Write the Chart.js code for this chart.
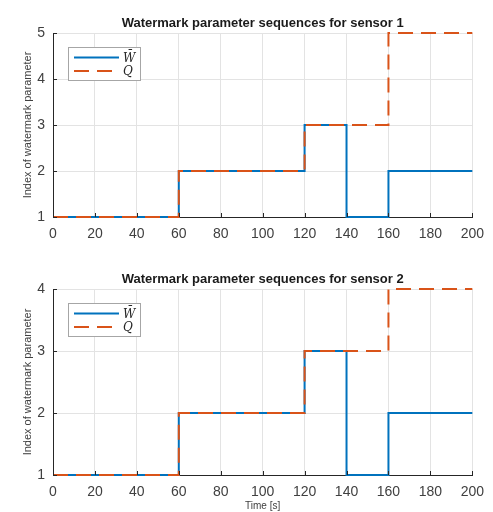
<!DOCTYPE html>
<html>
<head>
<meta charset="utf-8">
<script src="https://cdn.jsdelivr.net/npm/chart.js@4.4.1/dist/chart.umd.min.js"></script>
<style>
  body { margin: 0; background: #fff; }
  canvas { position: absolute; left: 0; }
  #sensor1 { top: 0; }
  #sensor2 { top: 256px; }
</style>
</head>
<body>
<canvas id="sensor1" width="493" height="260"></canvas>
<canvas id="sensor2" width="493" height="256"></canvas>
<script>
// step points (value holds until next time)
const times = [0, 60, 120, 140, 160, 200];
const wSensor1 = [1, 2, 3, 1, 2, 2];
const qSensor1 = [1, 2, 3, 3, 5, 5];
const wSensor2 = [1, 2, 3, 1, 2, 2];
const qSensor2 = [1, 2, 3, 3, 4, 4];

const xTicks = [0, 20, 40, 60, 80, 100, 120, 140, 160, 180, 200];
const yTicks1 = [1, 2, 3, 4, 5];
const yTicks2 = [1, 2, 3, 4];

const seriesNames = ["W\u0304", "Q"];
const blue = "#0072BD";
const red = "#D95319";
const font = "'Liberation Sans', Arial, sans-serif";

// MATLAB style title over the axes, inward ticks and boxed legend
const matlabBits = {
  id: "matlabBits",
  afterDraw(chart, args, opts) {
    const { ctx, chartArea, scales } = chart;
    ctx.save();
    ctx.fillStyle = "#1a1a1a";
    ctx.font = "bold 13px " + font;
    ctx.textAlign = "center";
    ctx.textBaseline = "middle";
    ctx.fillText(opts.title, (chartArea.left + chartArea.right) / 2, chartArea.top - 10);

    ctx.strokeStyle = "#262626";
    ctx.lineWidth = 1;
    ctx.beginPath();
    scales.x.ticks.forEach(t => {
      const px = Math.round(scales.x.getPixelForValue(t.value)) + 0.5;
      ctx.moveTo(px, chartArea.bottom);
      ctx.lineTo(px, chartArea.bottom - 4);
    });
    scales.y.ticks.forEach(t => {
      const py = Math.round(scales.y.getPixelForValue(t.value)) + 0.5;
      ctx.moveTo(chartArea.left, py);
      ctx.lineTo(chartArea.left + 4, py);
    });
    ctx.stroke();

    const x = chartArea.left + 15, y = chartArea.top + 14, w = 72, h = 33;
    ctx.fillStyle = "#fff";
    ctx.fillRect(x, y, w, h);
    ctx.strokeStyle = "#a6a6a6";
    ctx.strokeRect(x + 0.5, y + 0.5, w, h);

    ctx.textAlign = "left";
    chart.data.datasets.forEach((ds, i) => {
      const ly = y + 10.5 + i * 13.5;
      ctx.strokeStyle = ds.borderColor;
      ctx.lineWidth = 2;
      ctx.setLineDash(ds.borderDash || []);
      ctx.beginPath();
      ctx.moveTo(x + 6, ly);
      ctx.lineTo(x + 51, ly);
      ctx.stroke();
      ctx.setLineDash([]);
      ctx.fillStyle = "#262626";
      ctx.font = "italic 12px 'DejaVu Serif', 'Liberation Serif', serif";
      ctx.fillText(ds.label, x + 55, ly + 1);
    });
    ctx.restore();
  }
};

function makeChart(id, title, wData, qData, yTicks, xTitle, xHeight) {
  new Chart(document.getElementById(id), {
    type: "line",
    data: {
      datasets: [
        {
          label: seriesNames[0],
          data: times.map((t, i) => ({ x: t, y: wData[i] })),
          borderColor: blue,
          borderWidth: 2,
          stepped: true,
          clip: 3,
          order: 2
        },
        {
          label: seriesNames[1],
          data: times.map((t, i) => ({ x: t, y: qData[i] })),
          borderColor: red,
          borderWidth: 2,
          borderDash: [15, 8],
          stepped: true,
          clip: 3,
          order: 1
        }
      ]
    },
    options: {
      responsive: false,
      animation: false,
      layout: { padding: { left: 0, right: 17, top: 33, bottom: 0 } },
      elements: { point: { radius: 0 } },
      plugins: {
        legend: { display: false },
        tooltip: { enabled: false },
        title: { display: false },
        matlabBits: { title: title }
      },
      scales: {
        x: {
          type: "linear",
          min: 0,
          max: 200,
          afterBuildTicks: s => { s.ticks = xTicks.map(v => ({ value: v })); },
          afterFit: s => { s.height = xHeight; },
          grid: { color: "#e3e3e3", drawTicks: false },
          border: { color: "#262626", width: 1 },
          ticks: { color: "#404040", padding: 9, font: { family: font, size: 14 } },
          title: {
            display: !!xTitle,
            text: xTitle,
            color: "#404040",
            font: { family: font, size: 10 },
            padding: { top: 0, bottom: 0 }
          }
        },
        y: {
          min: yTicks[0],
          max: yTicks[yTicks.length - 1],
          afterBuildTicks: s => { s.ticks = yTicks.map(v => ({ value: v })); },
          afterFit: s => { s.width = 53; },
          grid: { color: "#e3e3e3", drawTicks: false },
          border: { color: "#262626", width: 1 },
          ticks: { color: "#404040", padding: 8, font: { family: font, size: 14 } },
          title: {
            display: true,
            text: "Index of watermark parameter",
            color: "#404040",
            font: { family: font, size: 11 },
            padding: { top: 21, bottom: 0 }
          }
        }
      }
    },
    plugins: [matlabBits]
  });
}

makeChart("sensor1", "Watermark parameter sequences for sensor 1", wSensor1, qSensor1, yTicks1, "", 43);
makeChart("sensor2", "Watermark parameter sequences for sensor 2", wSensor2, qSensor2, yTicks2, "Time [s]", 37);
</script>
</body>
</html>
